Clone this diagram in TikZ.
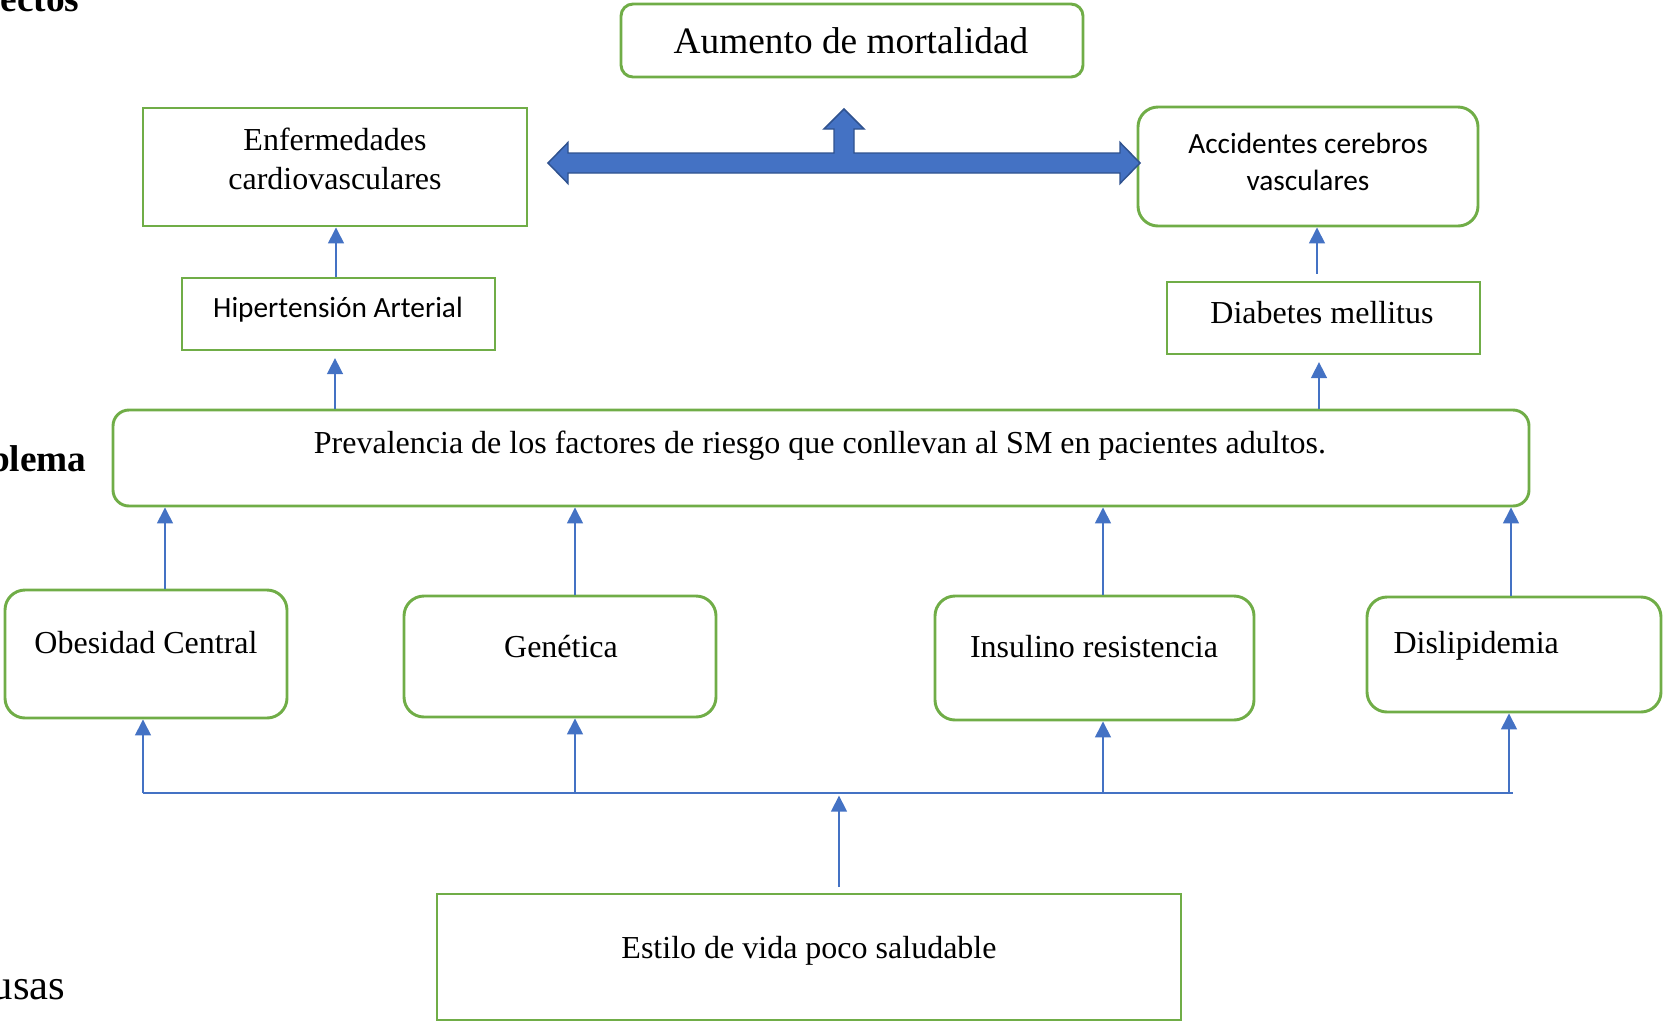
\documentclass[tikz,border=0pt]{standalone}
\usepackage{fontspec}
\setmainfont{Liberation Serif}
\newfontfamily\calibri{Carlito}
\usetikzlibrary{arrows.meta,fit}

\definecolor{boxgreen}{HTML}{70AD47}
\definecolor{linkblue}{HTML}{4472C4}
\definecolor{arrowedge}{HTML}{2F528F}

\tikzset{
  sqbox/.style={draw=boxgreen, line width=1.1pt, inner sep=0pt},
  rdbox/.style={sqbox, rounded corners=7.5pt},
  conn/.style={draw=linkblue, line width=0.6pt, -{Triangle[length=6pt,width=6pt]}},
  link/.style={draw=linkblue, line width=0.6pt},
  tnr/.style={font=\fontsize{12}{14.4}\selectfont, inner sep=0pt},
  cal/.style={font=\calibri\fontsize{11}{13.9}\selectfont, inner sep=0pt},
  side/.style={font=\bfseries\fontsize{14}{16.8}\selectfont, inner sep=0pt, anchor=base east},
}

\begin{document}
\begin{tikzpicture}[x=0.375pt, y=-0.375pt]
    \useasboundingbox (0,0) rectangle (1669,1022);
    \clip (0,0) rectangle (1669,1022);

    % Side titles
    \node[side] (efectos) at (80,11) {Efectos};
    \node[side] (problema) at (87,471) {Problema};
    \node[side, font=\fontsize{16}{19}\selectfont] (causas) at (66,999) {Causas};

    % Effects
    \node[sqbox, rounded corners=4.5pt, fit={(621,4) (1083,77)}] (aum) {};
    \node[tnr, font=\fontsize{14}{16.8}\selectfont, anchor=base] (aum-t) at (851,53) {Aumento de mortalidad};

    \node[sqbox, fit={(143,108) (527,226)}] (enf) {};
    \node[tnr, font=\fontsize{12}{14.8}\selectfont, align=center] (enf-t) at (335,159) {Enfermedades\\cardiovasculares};

    \node[rdbox, fit={(1138,107) (1478,226)}] (acc) {};
    \node[cal, align=center] (acc-t) at (1308,162) {Accidentes cerebros\\vasculares};

    \node[sqbox, fit={(182,278) (495,350)}] (hip) {};
    \node[cal, anchor=base] (hip-t) at (338,317) {Hipertensión Arterial};

    \node[sqbox, fit={(1167,282) (1480,354)}] (dia) {};
    \node[tnr, anchor=base] (dia-t) at (1322,323) {Diabetes mellitus};

    % Block arrow towards the effects
    \filldraw[fill=linkblue, draw=arrowedge, line width=0.55pt, line join=miter]
        (548,163) -- (568,142.5) -- (568,153) -- (834,153) -- (834,129) -- (824,129)
        -- (844,109) -- (864,129) -- (854,129) -- (854,153) -- (1120,153)
        -- (1120,142.5) -- (1140,163) -- (1120,183.5) -- (1120,173) -- (568,173)
        -- (568,183.5) -- cycle;

    % Problem
    \node[sqbox, rounded corners=6pt, fit={(113,410) (1529,506)}] (prob) {};
    \node[tnr, anchor=base] (prob-t) at (820,453) {Prevalencia de los factores de riesgo que conllevan al SM en pacientes adultos.};

    % Causes
    \node[rdbox, fit={(5,590) (287,718)}] (obe) {};
    \node[tnr, anchor=base] (obe-t) at (146,653) {Obesidad Central};
    \node[rdbox, fit={(404,596) (716,717)}] (gen) {};
    \node[tnr, anchor=base] (gen-t) at (561,657) {Genética};
    \node[rdbox, fit={(935,596) (1254,720)}] (ins) {};
    \node[tnr, anchor=base] (ins-t) at (1094,657) {Insulino resistencia};
    \node[rdbox, fit={(1367,597) (1661,712)}] (dis) {};
    \node[tnr, anchor=base west] (dis-t) at (1393,653) {Dislipidemia};

    \node[sqbox, fit={(437,894) (1181,1020)}] (est) {};
    \node[tnr, anchor=base] (est-t) at (809,958) {Estilo de vida poco saludable};

    % Arrows between levels
    \draw[conn] (hip.north -| 336,0) -- (enf.south -| 336,0);
    \draw[conn] ([yshift=2.5pt]dia.north -| 1317,0) -- (acc.south -| 1317,0);
    \draw[conn, shorten >=2.5pt] (prob.north -| 335,0) -- (hip.south -| 335,0);
    \draw[conn, shorten >=2.5pt] (prob.north -| 1319,0) -- (dia.south -| 1319,0);

    \foreach \n/\x in {obe/165, gen/575, ins/1103, dis/1511}
        \draw[conn] (\n.north -| \x,0) -- (prob.south -| \x,0);

    % Common line from the life style
    \coordinate (busL) at (143,793);
    \coordinate (busR) at (1513,793);
    \coordinate (busC) at (839,793);
    \draw[link] (busL) -- (busR);
    \foreach \n/\x in {obe/143, gen/575, ins/1103, dis/1509} {
        \coordinate (bus-\n) at (\x,793);
        \draw[conn] (bus-\n) -- (bus-\n |- \n.south);
    }
    \draw[conn, shorten >=1pt] ([yshift=2pt]est.north -| busC) -- (busC);
\end{tikzpicture}
\end{document}
